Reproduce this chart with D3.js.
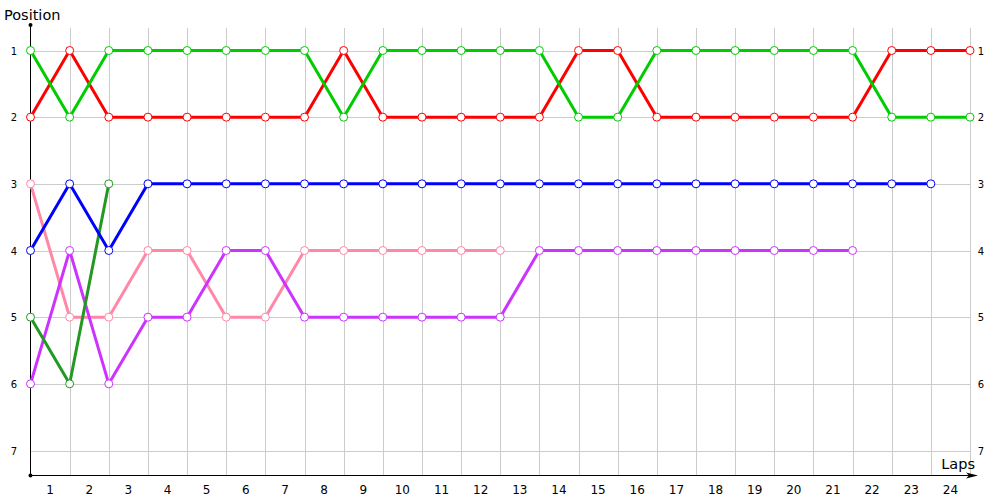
<!DOCTYPE html>
<html>
<head>
<meta charset="utf-8">
<style>
body { margin:0; background:#fff; }
text { font-family: "DejaVu Sans", Verdana, sans-serif; }
</style>
</head>
<body>
<div id="chart"></div>
<script src="https://d3js.org/d3.v7.min.js"></script>
<script>

// laps shown along the bottom axis
var laps = d3.range(1, 25);
var positions = [1, 2, 3, 4, 5, 6, 7];

// position of each driver at every lap boundary (index 0 = start)
var redPos    = [2,1,2,2,2,2,2,2,1,2,2,2,2,2,1,1,2,2,2,2,2,2,1,1,1];
var greenPos  = [1,2,1,1,1,1,1,1,2,1,1,1,1,1,2,2,1,1,1,1,1,1,2,2,2];
var bluePos   = [4,3,4,3,3,3,3,3,3,3,3,3,3,3,3,3,3,3,3,3,3,3,3,3];
var pinkPos   = [3,5,5,4,4,5,5,4,4,4,4,4,4];
var purplePos = [6,4,6,5,5,4,4,5,5,5,5,5,5,4,4,4,4,4,4,4,4,4];
var dgreenPos = [5,6,3];

var series = [
  {pos: pinkPos,   color: "#ff88a8"},
  {pos: purplePos, color: "#cc33ff"},
  {pos: dgreenPos, color: "#229922"},
  {pos: bluePos,   color: "#0000ff"},
  {pos: redPos,    color: "#ff0000"},
  {pos: greenPos,  color: "#00cc00"}
];

var W = 1000, H = 500;
var svg = d3.select("#chart").append("svg")
   .attr("width", W)
   .attr("height", H);

var x = d3.scaleLinear().domain([0, 24]).range([30.5, 970]);
var y = d3.scaleLinear().domain([1, 7]).range([50.5, 450.5]);
var axisY = 475.5;
var gridTop = 28;

// vertical grid
svg.append("g").selectAll("line")
   .data(d3.range(1, 25))
   .enter().append("line")
   .attr("x1", function(d){ return Math.round(x(d)) + 0.5; })
   .attr("x2", function(d){ return Math.round(x(d)) + 0.5; })
   .attr("y1", gridTop)
   .attr("y2", axisY)
   .style("stroke", "#cccccc")
   .style("stroke-width", 1);

// horizontal grid
svg.append("g").selectAll("line")
   .data(positions)
   .enter().append("line")
   .attr("x1", x(0))
   .attr("x2", x(24))
   .attr("y1", function(d){ return Math.round(y(d)) + 0.5; })
   .attr("y2", function(d){ return Math.round(y(d)) + 0.5; })
   .style("stroke", "#cccccc")
   .style("stroke-width", 1);

// position labels, both sides
positions.forEach(function(p){
  svg.append("text").text(p)
     .attr("x", 14).attr("y", y(p) + 4)
     .style("font-size", "10px").style("text-anchor", "middle").style("fill", "#000");
  svg.append("text").text(p)
     .attr("x", 981).attr("y", y(p) + 4)
     .style("font-size", "10px").style("text-anchor", "middle").style("fill", "#000");
});

// lap labels, centred between grid lines
svg.append("g").selectAll("text")
   .data(laps)
   .enter().append("text")
   .text(function(d){ return d; })
   .attr("x", function(d){ return x(d - 0.5); })
   .attr("y", 494)
   .style("font-size", "12px")
   .style("text-anchor", "middle")
   .style("fill", "#000");

// axes
svg.append("line")
   .attr("x1", 30.5).attr("x2", 30.5)
   .attr("y1", 25).attr("y2", axisY)
   .style("stroke", "#000").style("stroke-width", 1);
svg.append("line")
   .attr("x1", 30.5).attr("x2", 972)
   .attr("y1", axisY).attr("y2", axisY)
   .style("stroke", "#000").style("stroke-width", 1);
svg.append("circle").attr("cx", 30.5).attr("cy", 25).attr("r", 2).style("fill", "#000");
svg.append("circle").attr("cx", 30.5).attr("cy", axisY).attr("r", 2).style("fill", "#000");
svg.append("path")
   .attr("d", "M966," + (axisY - 3) + " L978," + axisY + " L966," + (axisY + 3) + " L969," + axisY + " Z")
   .style("fill", "#000");

// titles
svg.append("text").text("Position")
   .attr("x", 4).attr("y", 20)
   .style("font-size", "14.5px").style("fill", "#000");
svg.append("text").text("Laps")
   .attr("x", 975).attr("y", 469)
   .style("font-size", "14.5px").style("text-anchor", "end").style("fill", "#000");

// lines
var line = d3.line()
   .x(function(d, i){ return x(i); })
   .y(function(d){ return y(d); });

series.forEach(function(s){
  svg.append("path")
     .datum(s.pos)
     .attr("d", line)
     .style("fill", "none")
     .style("stroke", s.color)
     .style("stroke-width", 3)
     .style("stroke-linejoin", "round");
});

// markers on top
series.forEach(function(s){
  svg.append("g").selectAll("circle")
     .data(s.pos)
     .enter().append("circle")
     .attr("cx", function(d, i){ return x(i); })
     .attr("cy", function(d){ return y(d); })
     .attr("r", 4)
     .style("fill", "#fff")
     .style("stroke", s.color)
     .style("stroke-width", 1);
});

</script>
</body>
</html>
